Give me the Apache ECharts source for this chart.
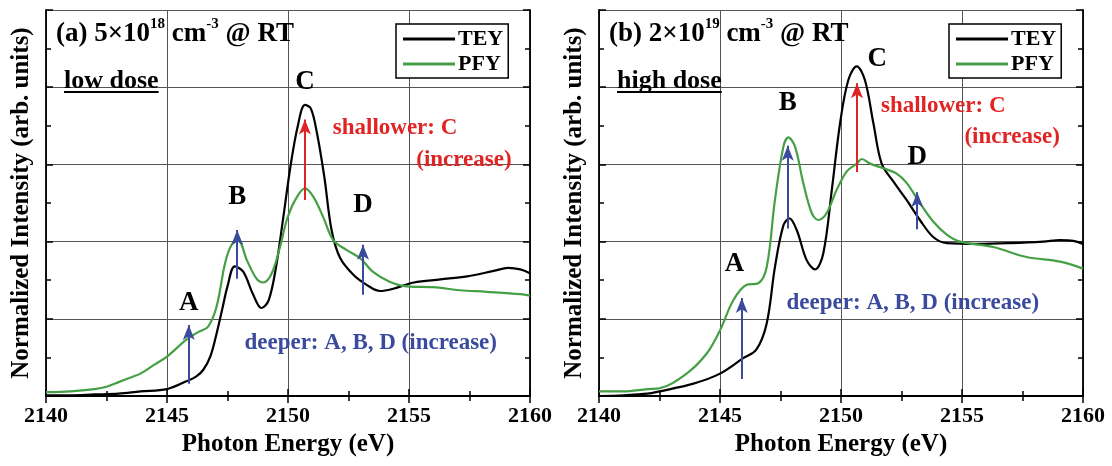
<!DOCTYPE html>
<html><head><meta charset="utf-8">
<script src="https://cdn.jsdelivr.net/npm/echarts@6/dist/echarts.min.js"></script>
<style>html,body{margin:0;padding:0;background:#fff}#c{width:1112px;height:466px}</style>
</head><body><div id="c"></div>
<script>
// ---- data (photon energy in eV, normalized intensity in arb. units) ----
const energyRange = [2140, 2160];
const energyStep = 5;
const intensityRange = [0, 5];

const teyLow = [[2140,0.01],[2141,0.01],[2142,0.02],[2143,0.03],[2143.9,0.06],[2145,0.09],[2145.8,0.19],[2146.2,0.25],[2146.5,0.34],[2146.8,0.52],[2147.05,0.81],[2147.3,1.15],[2147.5,1.42],[2147.8,1.68],[2148.15,1.61],[2148.55,1.32],[2148.9,1.14],[2149.2,1.24],[2149.5,1.66],[2149.8,2.3],[2150.1,2.97],[2150.4,3.49],[2150.7,3.77],[2150.95,3.72],[2151.2,3.4],[2151.5,2.84],[2151.8,2.15],[2152.15,1.79],[2152.7,1.57],[2153.25,1.44],[2153.8,1.36],[2154.35,1.39],[2155.2,1.47],[2156.3,1.51],[2157.4,1.55],[2158.5,1.62],[2159.1,1.66],[2159.6,1.64],[2160,1.59]];
const pfyLow = [[2140,0.05],[2141,0.06],[2142,0.09],[2142.5,0.12],[2143,0.18],[2143.5,0.24],[2143.9,0.29],[2144.5,0.41],[2145,0.51],[2145.8,0.73],[2146.3,0.83],[2146.7,0.9],[2147.05,1.16],[2147.4,1.72],[2147.67,1.96],[2147.95,2.01],[2148.3,1.76],[2148.7,1.52],[2148.98,1.47],[2149.33,1.59],[2149.67,1.93],[2149.95,2.28],[2150.3,2.54],[2150.7,2.69],[2151.05,2.58],[2151.45,2.32],[2151.87,2.02],[2152.43,1.89],[2153,1.78],[2153.5,1.61],[2154.2,1.48],[2154.9,1.42],[2156,1.41],[2157.1,1.37],[2158.2,1.35],[2159.6,1.32],[2160,1.3]];
const teyHigh = [[2140,0.0],[2141,0.01],[2142,0.03],[2142.5,0.06],[2143.9,0.16],[2145,0.29],[2145.96,0.49],[2146.5,0.6],[2146.93,0.94],[2147.27,1.67],[2147.62,2.21],[2147.87,2.3],[2148.17,2.15],[2148.58,1.76],[2148.93,1.64],[2149.27,1.85],[2149.62,2.67],[2149.96,3.53],[2150.3,4.09],[2150.65,4.27],[2150.99,4.09],[2151.34,3.53],[2151.68,3.01],[2152.16,2.78],[2152.71,2.54],[2153.26,2.28],[2153.81,2.06],[2154.37,1.98],[2155.6,1.97],[2156.98,1.98],[2158.36,2.0],[2159.05,2.02],[2159.6,2.01],[2160,1.97]];
const pfyHigh = [[2140,0.06],[2141,0.06],[2142,0.09],[2142.5,0.1],[2143.62,0.29],[2144.45,0.55],[2145,0.85],[2145.55,1.24],[2146.1,1.44],[2146.58,1.46],[2146.93,1.67],[2147.27,2.54],[2147.62,3.23],[2147.82,3.35],[2148.1,3.23],[2148.44,2.76],[2148.79,2.37],[2149.06,2.28],[2149.41,2.37],[2149.82,2.67],[2150.24,2.91],[2150.65,3.01],[2150.86,3.07],[2151.2,3.01],[2151.75,2.95],[2152.3,2.88],[2152.71,2.76],[2153.26,2.5],[2153.81,2.26],[2154.37,2.09],[2154.92,2.0],[2156.29,1.93],[2157.67,1.8],[2159.05,1.74],[2160,1.65]];

// arrows: [energy, start intensity, tip intensity]
const deepArrowsLow = [[2145.9,0.16,0.92],[2147.9,1.52,2.15],[2153.1,1.31,1.96]];
const shallowArrowsLow = [[2150.7,2.54,3.58]];
const deepArrowsHigh = [[2145.9,0.22,1.27],[2147.8,2.17,3.24],[2153.15,2.16,2.64]];
const shallowArrowsHigh = [[2150.66,2.9,4.05]];

// peak letters: [text, energy, intensity]
const peakLabelsLow = [['A',2145.9,1.2],['B',2147.9,2.58],['C',2150.7,4.07],['D',2153.1,2.47]];
const peakLabelsHigh = [['A',2145.6,1.71],['B',2147.8,3.8],['C',2151.5,4.37],['D',2153.15,3.1]];
// notes: [text, start energy, intensity]
const shallowNotesLow = [['shallower: C',2151.85,3.47],['(increase)',2155.3,3.06]];
const deepNotesLow = [['deeper: A, B, D (increase)',2148.2,0.68]];
const shallowNotesHigh = [['shallower: C',2151.65,3.76],['(increase)',2155.1,3.35]];
const deepNotesHigh = [['deeper: A, B, D (increase)',2147.75,1.21]];

const seriesNames = ['TEY', 'PFY'];
const panelTitles = [['(a) 5×10','18',' cm','-3',' @ RT'], ['(b) 2×10','19',' cm','-3',' @ RT']];
const doseLabels = ['low dose', 'high dose'];
const xAxisName = 'Photon Energy (eV)';
const yAxisName = 'Normalized Intensity (arb. units)';

// ---- styling / layout ----
const F = "'Liberation Serif','Times New Roman','DejaVu Serif',serif";
const GREEN = '#45a045';
const BLUE = '#3a4a9e';
const RED = '#e02424';
const grids = [
  {left: 46, top: 10, width: 484, height: 386},
  {left: 599, top: 10, width: 484, height: 386}
];

const xAxes = [], yAxes = [], series = [];
function tickCfg(){ return {show:true, inside:true, length:7, lineStyle:{color:'#000', width:1.5}}; }
function minorCfg(){ return {show:true, splitNumber:2, length:5, lineStyle:{color:'#000', width:1.5}}; }
grids.forEach((g, i) => {
  const base = {type:'value', gridIndex:i, min:energyRange[0], max:energyRange[1], interval:energyStep,
    axisLine:{show:true, lineStyle:{color:'#000', width:1.8}}, axisTick:tickCfg(), minorTick:minorCfg()};
  xAxes.push(Object.assign({}, base, {position:'bottom',
    axisLabel:{show:true, fontSize:22, fontWeight:'bold', fontFamily:F, color:'#000', margin:9, formatter: v => String(v)},
    splitLine:{show:true, lineStyle:{color:'#555', width:1}},
    name:xAxisName, nameLocation:'middle', nameGap:36,
    nameTextStyle:{fontSize:25, fontWeight:'bold', fontFamily:F, color:'#000'}}));
  xAxes.push(Object.assign({}, base, {position:'top', axisLabel:{show:false}, splitLine:{show:false}}));
  const ybase = {type:'value', gridIndex:i, min:intensityRange[0], max:intensityRange[1], interval:1,
    axisLine:{show:true, lineStyle:{color:'#000', width:1.8}}, axisTick:tickCfg(), minorTick:minorCfg(), axisLabel:{show:false}};
  yAxes.push(Object.assign({}, ybase, {position:'left', splitLine:{show:true, lineStyle:{color:'#555', width:1}},
    name:yAxisName, nameLocation:'middle', nameGap:12,
    nameTextStyle:{fontSize:25, fontWeight:'bold', fontFamily:F, color:'#000'}}));
  yAxes.push(Object.assign({}, ybase, {position:'right', splitLine:{show:false}}));
});

function addPanel(i, tey, pfy, deepArrows, shallowArrows, peaks, shallowNotes, deepNotes) {
  const xi = 2*i, yi = 2*i;
  series.push({type:'line', name:seriesNames[0], xAxisIndex:xi, yAxisIndex:yi, data:tey, symbol:'none', smooth:0.35,
    lineStyle:{color:'#000', width:2.2}, itemStyle:{color:'#000'}, z:3});
  series.push({type:'line', name:seriesNames[1], xAxisIndex:xi, yAxisIndex:yi, data:pfy, symbol:'none', smooth:0.35,
    lineStyle:{color:GREEN, width:2.2}, itemStyle:{color:GREEN}, z:4});
  [[deepArrows, BLUE], [shallowArrows, RED]].forEach(([arr, col]) => {
    series.push({type:'line', name:'arrows', xAxisIndex:xi, yAxisIndex:yi, data:[], silent:true, z:6,
      markLine:{silent:true, animation:false, symbol:['none','arrow'], symbolSize:[9,15], label:{show:false},
        lineStyle:{color:col, width:2, type:'solid'}, emphasis:{disabled:true},
        data: arr.map(a => [{coord:[a[0], a[1]]}, {coord:[a[0], a[2]]}])}});
  });
  const labelItem = (t, align, color, size) => ({value:[t[1], t[2]],
    label:{show:true, position:'inside', formatter:t[0], align:align, verticalAlign:'middle', color:color,
      fontSize:size, fontWeight:'bold', fontFamily:F, opacity:1, textBorderWidth:0}});
  series.push({type:'scatter', name:'labels', xAxisIndex:xi, yAxisIndex:yi, symbolSize:1, silent:true, z:7,
    itemStyle:{color:'rgba(0,0,0,0)', opacity:1},
    data: peaks.map(p => labelItem(p, 'center', '#000', 27))
      .concat(shallowNotes.map(p => labelItem(p, 'left', RED, 23)))
      .concat(deepNotes.map(p => labelItem(p, 'left', BLUE, 23)))});
}
addPanel(0, teyLow, pfyLow, deepArrowsLow, shallowArrowsLow, peakLabelsLow, shallowNotesLow, deepNotesLow);
addPanel(1, teyHigh, pfyHigh, deepArrowsHigh, shallowArrowsHigh, peakLabelsHigh, shallowNotesHigh, deepNotesHigh);

const legends = grids.map(g => ({
  data: seriesNames.map(n => ({name:n, icon:'rect'})), orient:'vertical', left: g.left + 350, top: 24,
  borderColor:'#000', borderWidth:1.5, padding:[4,5,3,7], itemGap:3, itemWidth:52, itemHeight:3,
  backgroundColor:'#fff', selectedMode:false,
  textStyle:{fontSize:22, fontWeight:'bold', fontFamily:F, color:'#000', padding:[0,0,0,-2]}
}));

const graphic = [];
grids.forEach((g, i) => {
  const t = panelTitles[i];
  graphic.push({type:'text', left: g.left + 10, top: 17, z:10,
    style:{text:'{a|'+t[0]+'}{s|'+t[1]+'}{a|'+t[2]+'}{s|'+t[3]+'}{a|'+t[4]+'}',
      rich:{a:{fontSize:27, fontWeight:'bold', fontFamily:F, fill:'#000', lineHeight:34},
            s:{fontSize:15, fontWeight:'bold', fontFamily:F, fill:'#000', lineHeight:10, verticalAlign:'top'}}}});
  graphic.push({type:'text', left: g.left + 18, top: 68, z:10,
    style:{text: doseLabels[i], fontSize:26, fontWeight:'bold', fontFamily:F, fill:'#000'}});
});

const chart = echarts.init(document.getElementById('c'), null, {renderer:'canvas'});
chart.setOption({
  animation:false, backgroundColor:'#fff',
  grid: grids, xAxis: xAxes, yAxis: yAxes, series: series, legend: legends, graphic: graphic
});
// underline the dose labels, matching their rendered width
const els = chart.getZr().storage.getDisplayList();
const extra = [];
grids.forEach((g, i) => {
  const el = els.find(e => e.style && e.style.text === doseLabels[i]);
  if (el) {
    const r = el.getBoundingRect(); const m = el.transform || [1,0,0,1,0,0];
    const x1 = r.x + m[4], x2 = r.x + r.width + m[4], y = r.y + r.height + m[5] - 2;
    extra.push({type:'line', z:10, shape:{x1:x1, y1:y, x2:x2, y2:y}, style:{stroke:'#000', lineWidth:2}});
  }
});
chart.setOption({graphic: graphic.concat(extra)});
</script></body></html>
